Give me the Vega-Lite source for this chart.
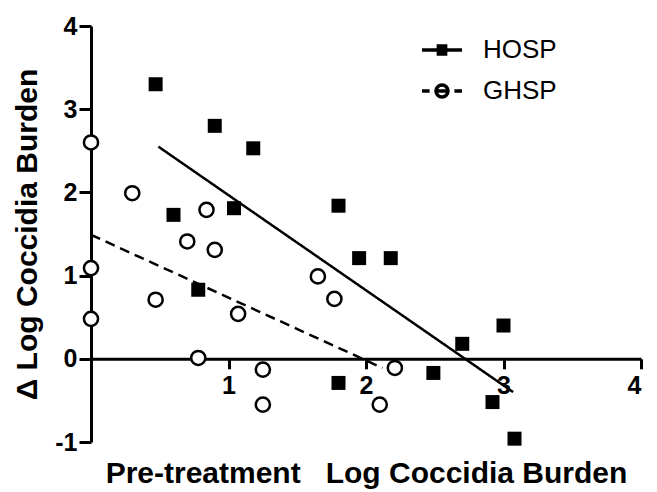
{
  "$schema": "https://vega.github.io/schema/vega-lite/v6.json",
  "autosize": "none",
  "width": 550,
  "height": 416,
  "padding": {"left": 91, "top": 26, "right": 16, "bottom": 50},
  "background": "white",
  "config": {
    "view": {"stroke": null},
    "font": "Liberation Sans"
  },
  "datasets": {
    "pts": [
      {"group": "HOSP", "x": 0.47, "y": 3.3},
      {"group": "HOSP", "x": 0.9, "y": 2.8},
      {"group": "HOSP", "x": 1.18, "y": 2.53},
      {"group": "HOSP", "x": 0.6, "y": 1.73},
      {"group": "HOSP", "x": 1.04, "y": 1.81},
      {"group": "HOSP", "x": 0.78, "y": 0.83},
      {"group": "HOSP", "x": 1.8, "y": 1.84},
      {"group": "HOSP", "x": 1.95, "y": 1.21},
      {"group": "HOSP", "x": 2.18, "y": 1.21},
      {"group": "HOSP", "x": 2.7, "y": 0.18},
      {"group": "HOSP", "x": 3.0, "y": 0.4},
      {"group": "HOSP", "x": 2.49, "y": -0.17},
      {"group": "HOSP", "x": 1.8, "y": -0.29},
      {"group": "HOSP", "x": 2.92, "y": -0.52},
      {"group": "HOSP", "x": 3.08, "y": -0.96},
      {"group": "GHSP", "x": 0.0, "y": 2.6},
      {"group": "GHSP", "x": 0.3, "y": 1.99},
      {"group": "GHSP", "x": 0.84, "y": 1.79},
      {"group": "GHSP", "x": 0.7, "y": 1.41},
      {"group": "GHSP", "x": 0.9, "y": 1.31},
      {"group": "GHSP", "x": 0.0, "y": 1.09},
      {"group": "GHSP", "x": 0.0, "y": 0.48},
      {"group": "GHSP", "x": 0.47, "y": 0.71},
      {"group": "GHSP", "x": 1.07, "y": 0.54},
      {"group": "GHSP", "x": 0.78, "y": 0.01},
      {"group": "GHSP", "x": 1.25, "y": -0.13},
      {"group": "GHSP", "x": 1.25, "y": -0.55},
      {"group": "GHSP", "x": 1.65, "y": 0.99},
      {"group": "GHSP", "x": 1.77, "y": 0.72},
      {"group": "GHSP", "x": 2.21, "y": -0.11},
      {"group": "GHSP", "x": 2.1, "y": -0.55}
    ],
    "fits": [
      {"group": "HOSP", "x": 0.49, "y": 2.55},
      {"group": "HOSP", "x": 3.07, "y": -0.4},
      {"group": "GHSP", "x": 0.0, "y": 1.49},
      {"group": "GHSP", "x": 2.12, "y": -0.11}
    ]
  },
  "encoding": {
    "x": {
      "field": "x",
      "type": "quantitative",
      "scale": {"domain": [0, 4], "nice": false, "zero": false},
      "axis": {
        "grid": false,
        "values": [1, 2, 3, 4],
        "offset": -83.2,
        "domainColor": "black",
        "domainWidth": 3,
        "tickColor": "black",
        "tickWidth": 3,
        "tickSize": 10,
        "labelPadding": 5,
        "labelColor": "black",
        "labelFont": "Liberation Sans",
        "labelFontWeight": "bold",
        "labelFontSize": 25,
        "labelExpr": "'' + datum.value",
        "title": "Pre-treatment\u00a0\u00a0 Log Coccidia Burden",
        "titleColor": "black",
        "titleFont": "Liberation Sans",
        "titleFontWeight": "bold",
        "titleFontSize": 30,
        "titlePadding": 60
      }
    },
    "y": {
      "field": "y",
      "type": "quantitative",
      "scale": {"domain": [-1, 4], "nice": false, "zero": false},
      "axis": {
        "grid": false,
        "values": [-1, 0, 1, 2, 3, 4],
        "domainColor": "black",
        "domainWidth": 3,
        "tickColor": "black",
        "tickWidth": 3,
        "tickSize": 12,
        "labelPadding": 2,
        "labelColor": "black",
        "labelFont": "Liberation Sans",
        "labelFontWeight": "bold",
        "labelFontSize": 25,
        "labelExpr": "'' + datum.value",
        "title": "Δ Log Coccidia Burden",
        "titleColor": "black",
        "titleFont": "Liberation Sans",
        "titleFontWeight": "bold",
        "titleFontSize": 30,
        "titlePadding": 12
      }
    }
  },
  "layer": [
    {
      "data": {"name": "fits"},
      "mark": {"type": "line", "color": "black", "strokeWidth": 2.5},
      "encoding": {
        "detail": {"field": "group", "type": "nominal"},
        "strokeDash": {"condition": {"test": "datum.group === 'GHSP'", "value": [10, 6]}, "value": [1, 0]},
        "opacity": {
          "field": "group",
          "type": "nominal",
          "scale": {"domain": ["HOSP", "GHSP"], "range": [1, 1]},
          "legend": {
            "orient": "none",
            "legendX": 329,
            "legendY": 2,
            "title": null,
            "padding": 0,
            "symbolSize": 1600,
            "symbolStrokeWidth": 3.5,
            "symbolStrokeColor": "black",
            "rowPadding": 6,
            "labelFont": "Liberation Sans",
            "labelFontSize": 26,
            "labelColor": "black",
            "labelOffset": 19,
            "encode": {
              "symbols": {
                "update": {
                  "shape": {"signal": "datum.value === 'HOSP' ? 'M-1,0H1M-0.18,-0.2H0.18V0.2H-0.18Z' : 'M-1,0H-0.62M-0.3,0H0.3M0.62,0H1M-0.3,0A0.3,0.3 0 1,1 0.3,0A0.3,0.3 0 1,1 -0.3,0Z'"},
                  "fill": {"signal": "datum.value === 'HOSP' ? 'black' : 'white'"},
                  "fillOpacity": {"value": 1},
                  "stroke": {"value": "black"},
                  "strokeWidth": {"value": 3.5},
                  "opacity": {"value": 1}
                }
              }
            }
          }
        }
      }
    },
    {
      "data": {"name": "pts"},
      "mark": {"type": "point", "filled": false, "fillOpacity": 1, "strokeOpacity": 1, "opacity": 1, "stroke": "black"},
      "encoding": {
        "shape": {"condition": {"test": "datum.group === 'HOSP'", "value": "square"}, "value": "circle"},
        "fill": {"condition": {"test": "datum.group === 'HOSP'", "value": "black"}, "value": "white"},
        "strokeWidth": {"condition": {"test": "datum.group === 'HOSP'", "value": 0}, "value": 2.5},
        "size": {"condition": {"test": "datum.group === 'HOSP'", "value": 196}, "value": 200}
      }
    }
  ]
}
